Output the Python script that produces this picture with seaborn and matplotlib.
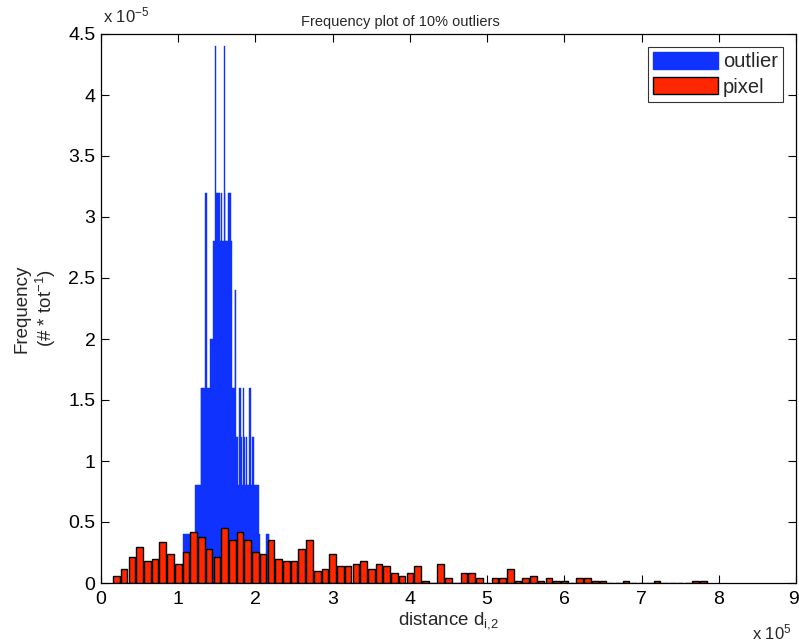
import numpy as np
import pandas as pd
import matplotlib
matplotlib.use("Agg")
import matplotlib.pyplot as plt
import matplotlib.transforms as mtransforms
from matplotlib.patches import Patch
from matplotlib.ticker import FuncFormatter
import seaborn as sns

# ---------------- data ----------------
# outlier histogram: bins of width 1e3 starting at 1.06e5, frequency in units of 1e-5
outlier_bin_start = 1.06e5
outlier_bin_width = 1.0e3
outlier_freq_e5 = [
    0.4, 0.4, 0.4, 0.4, 0.4, 0.4, 0.4, 0.4, 0.4, 0.4, 0.4, 0.4, 0.4, 0.4, 0.4, 0.4,
    0.8, 0.8, 0.8, 0.8, 0.8, 0.8, 0.8,
    1.6, 1.6, 1.6, 1.6, 1.6, 1.6,
    3.2, 3.2,
    1.6, 1.6, 1.6, 1.6,
    2.0, 2.0, 2.0, 2.0,
    2.8, 2.8, 2.8, 4.4, 3.2, 3.2, 3.2, 3.2, 3.2, 2.8, 2.8, 3.2, 2.8, 2.8, 4.4, 3.2,
    2.8, 2.8, 2.8, 2.8, 3.2, 3.2, 3.2, 2.8,
    1.6, 1.6, 1.6, 1.6,
    2.4, 2.4,
    1.2, 1.2,
    0.8, 0.8,
    1.6, 1.6,
    1.2, 0.8, 0.8,
    1.6,
    1.2, 0.8, 0.8, 1.2, 0.8, 0.8, 0.8,
    1.6, 1.6,
    0.8, 0.8,
    1.2, 1.2,
    0.8, 0.8, 0.8, 0.8, 0.8, 0.8,
    0.4, 0.4,
    0.0, 0.0, 0.0, 0.0, 0.0, 0.0, 0.0, 0.0,
    0.4, 0.4, 0.4, 0.4,
]

# pixel histogram: bin centres 0.2e5 ... 7.8e5 (step 1e4), frequency in units of 1e-5
pixel_centers_e5 = [
    0.2, 0.3, 0.4, 0.5, 0.6, 0.7, 0.8, 0.9, 1.0, 1.1, 1.2, 1.3, 1.4, 1.5, 1.6, 1.7,
    1.8, 1.9, 2.0, 2.1, 2.2, 2.3, 2.4, 2.5, 2.6, 2.7, 2.8, 2.9, 3.0, 3.1, 3.2, 3.3,
    3.4, 3.5, 3.6, 3.7, 3.8, 3.9, 4.0, 4.1, 4.2, 4.3, 4.4, 4.5, 4.6, 4.7, 4.8, 4.9,
    5.0, 5.1, 5.2, 5.3, 5.4, 5.5, 5.6, 5.7, 5.8, 5.9, 6.0, 6.1, 6.2, 6.3, 6.4, 6.5,
    6.6, 6.7, 6.8, 6.9, 7.0, 7.1, 7.2, 7.3, 7.4, 7.5, 7.6, 7.7, 7.8,
]
pixel_freq_e5 = [
    0.057, 0.118, 0.217, 0.296, 0.177, 0.197, 0.335, 0.237, 0.158, 0.256, 0.414, 0.375, 0.276, 0.217, 0.453, 0.355,
    0.414, 0.355, 0.256, 0.237, 0.355, 0.197, 0.177, 0.177, 0.276, 0.355, 0.098, 0.118, 0.237, 0.138, 0.138, 0.158,
    0.177, 0.118, 0.158, 0.138, 0.079, 0.059, 0.079, 0.138, 0.020, 0.0, 0.158, 0.039, 0.0, 0.079, 0.079, 0.039,
    0.0, 0.039, 0.039, 0.118, 0.020, 0.039, 0.059, 0.020, 0.039, 0.020, 0.020, 0.0, 0.039, 0.039, 0.020, 0.020,
    0.0, 0.0, 0.020, 0.0, 0.0, 0.0, 0.020, 0.0, 0.0, 0.0, 0.0, 0.020, 0.020,
]
pixel_bin_width = 1.0e4

title = "Frequency plot of 10% outliers"
x_ticks_e5 = [0, 1, 2, 3, 4, 5, 6, 7, 8, 9]
y_ticks_e5 = [0, 0.5, 1, 1.5, 2, 2.5, 3, 3.5, 4, 4.5]

# ---------------- build tables ----------------
n_out = len(outlier_freq_e5)
out_edges = [float(outlier_bin_start + outlier_bin_width * i) for i in range(n_out + 1)]
out_df = pd.DataFrame({
    "distance": np.array(out_edges[:-1]) + outlier_bin_width / 2,
    "freq": np.array(outlier_freq_e5) * 1e-5,
})
pix_centers = np.array(pixel_centers_e5) * 1e5
pix_edges = [float(v) for v in np.append(pix_centers - pixel_bin_width / 2,
                                         pix_centers[-1] + pixel_bin_width / 2)]
pix_df = pd.DataFrame({"distance": pix_centers, "freq": np.array(pixel_freq_e5) * 1e-5})

# ---------------- style ----------------
sns.set_theme(style="white")
plt.rcParams["font.family"] = ["Liberation Sans", "DejaVu Sans"]
plt.rcParams["mathtext.fontset"] = "custom"
plt.rcParams["mathtext.rm"] = "Liberation Sans"
plt.rcParams["mathtext.it"] = "Liberation Sans"

blue = "#0F32FF"
red = "#FF2600"

fig = plt.figure(figsize=(7.99, 6.43), dpi=100)
ax = fig.add_axes([101 / 799, 60 / 643, 695 / 799, 549 / 643])

sns.histplot(data=out_df, x="distance", weights="freq", bins=out_edges,
             color=blue, alpha=1.0, edgecolor=blue, linewidth=0.3, ax=ax)
sns.histplot(data=pix_df, x="distance", weights="freq", bins=pix_edges, shrink=0.85,
             color=red, alpha=1.0, edgecolor="black", linewidth=1.0, ax=ax)

ax.set_xlim(0, 9e5)
ax.set_ylim(0, 4.5e-5)
ax.set_xticks(np.array(x_ticks_e5) * 1e5)
ax.set_yticks(np.array(y_ticks_e5) * 1e-5)
ax.xaxis.set_major_formatter(FuncFormatter(lambda v, p: f"{v / 1e5:g}"))
ax.yaxis.set_major_formatter(FuncFormatter(lambda v, p: f"{v / 1e-5:g}"))
ax.tick_params(direction="in", length=6, width=0.8, labelsize=14, colors="black",
               top=True, right=True, bottom=True, left=True)
ax.tick_params(axis="x", pad=6)
ax.tick_params(axis="y", pad=4)
for s in ax.spines.values():
    s.set_color("black")
    s.set_linewidth(0.9)

# nudge the last x tick label so it stays inside the figure
last_lbl = ax.get_xticklabels()[-1]
last_lbl.set_transform(last_lbl.get_transform() +
                       mtransforms.ScaledTranslation(-3 / 100, 0, fig.dpi_scale_trans))

ax.set_xlabel("distance d$_{\\mathregular{i{,}2}}$", fontsize=13.5)
ax.xaxis.set_label_coords(0.5, -0.050)
ax.set_ylabel("Frequency\n(# * tot$^{\\mathregular{-1}}$)", fontsize=13.5, linespacing=1.2)
ax.yaxis.set_label_coords(-0.0615, 0.5)
ax.set_title(title, fontsize=10.5, x=(400 - 101) / 695, pad=6)

fig.text(103 / 799, 1 - 15 / 643, "x 10$^{\\mathregular{-5}}$", fontsize=12, va="center", ha="left")
fig.text(752 / 799, 1 - 632 / 643, "x 10$^{\\mathregular{5}}$", fontsize=12, va="center", ha="left")

handles = [Patch(facecolor=blue, edgecolor=blue, label="outlier"),
           Patch(facecolor=red, edgecolor="black", label="pixel")]
leg = ax.legend(handles=handles, loc="upper right", fontsize=14.5, frameon=True, fancybox=False,
                handlelength=3.2, handleheight=0.9, borderaxespad=0.65, handletextpad=0.25,
                labelspacing=0.3, borderpad=0.25)
leg.get_frame().set_edgecolor("black")
leg.get_frame().set_linewidth(0.8)

fig.savefig("out.png", dpi=100)
